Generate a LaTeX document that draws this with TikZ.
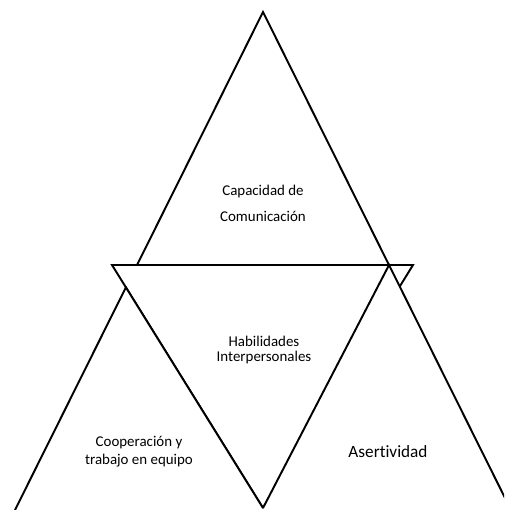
\documentclass[tikz,border=0pt]{standalone}
\usepackage{fontspec}
\setmainfont{Carlito}[Ligatures=NoCommon]
\begin{document}
\begin{tikzpicture}[x=0.02cm, y=-0.02cm, line width=1.1pt, line join=miter,
  txt/.style={inner sep=0pt, align=center, font=\fontsize{8.5}{10}\selectfont}]
\useasboundingbox (0,0) rectangle (504,510);
\clip (0,0) rectangle (504,510);
% corners
\coordinate (apex) at (263,12);
\coordinate (baseL) at (15,510);
\coordinate (baseR) at (511,510);
\coordinate (invL) at (112,265);
\coordinate (invR) at (413,265);
\coordinate (invB) at (263,508);
\coordinate (topL) at (intersection of apex--baseL and invL--invR);
\coordinate (topR) at (intersection of apex--baseR and invL--invR);
\coordinate (leftT) at (intersection of apex--baseL and invL--invB);
% inverted triangle
\fill [white] (invL) -- (invR) -- (invB) -- cycle;
\draw [black] (invB) -- (invL) -- (invR) -- (invB);
% top triangle
\filldraw [black, fill=white] (apex) -- (topL) -- (topR) -- cycle;
% left triangle
\fill [white] (leftT) -- (baseL) -- (invB) -- cycle;
\draw [black] (baseL) -- (leftT) -- (invB);
% right triangle
\fill [white] (topR) -- (invB) -- (baseR) -- cycle;
\draw [black] (invB) -- (topR) -- (baseR);
% texts
\node [txt, font=\fontsize{8.5}{14.7}\selectfont] (capa) at (263,203) {Capacidad de\\Comunicación};
\node [txt, font=\fontsize{8.5}{8.6}\selectfont] (habi) at (264,350) {Habilidades\\Interpersonales};
\node [txt, font=\fontsize{8.5}{10.2}\selectfont] (coop) at (139,452) {Cooperación y\\trabajo en equipo};
\node [txt, font=\fontsize{9.8}{11}\selectfont] (aser) at (388,452) {Asertividad};
\end{tikzpicture}
\end{document}
